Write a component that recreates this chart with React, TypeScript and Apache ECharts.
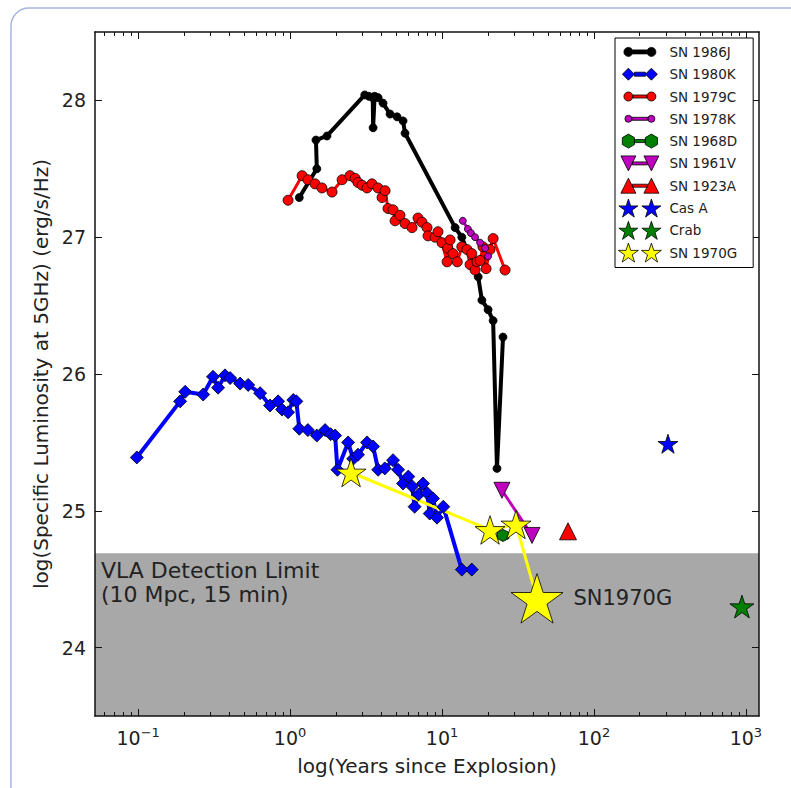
import React, { useEffect, useRef } from 'react';
import * as echarts from 'echarts';

// ---------- data (years since explosion, log specific luminosity) ----------
const sn1986J_t = [1.15, 1.5, 1.48, 1.75, 3.1, 3.3, 3.5, 3.52, 3.6, 3.8, 4.09, 4.55, 5.06, 5.54, 5.71, 12.2, 13.5, 17.3, 18.3, 20.1, 21.7, 23.0, 25.2];
const sn1986J_L = [27.29, 27.5, 27.71, 27.74, 28.04, 28.03, 28.02, 27.8, 28.03, 28.02, 27.98, 27.9, 27.88, 27.85, 27.76, 27.07, 27.0, 26.71, 26.54, 26.47, 26.39, 25.31, 26.27];

const sn1980K_t = [0.098, 0.189, 0.204, 0.268, 0.311, 0.336, 0.373, 0.403, 0.469, 0.53, 0.635, 0.738, 0.834, 0.885, 0.97, 1.05, 1.1, 1.15, 1.31, 1.5, 1.7, 1.85, 1.98, 2.05, 2.41, 2.6, 2.8, 3.21, 3.52, 3.8, 4.2, 4.76, 5.14, 5.54, 6.0, 6.35, 6.6, 7.0, 7.5, 7.97, 8.3, 8.73, 9.27, 10.2, 13.5, 15.7];
const sn1980K_L = [25.39, 25.8, 25.87, 25.85, 25.98, 25.9, 25.99, 25.97, 25.93, 25.92, 25.86, 25.77, 25.8, 25.74, 25.72, 25.81, 25.8, 25.6, 25.59, 25.55, 25.59, 25.56, 25.55, 25.3, 25.5, 25.38, 25.41, 25.5, 25.47, 25.3, 25.31, 25.37, 25.3, 25.2, 25.25, 25.18, 25.03, 25.12, 25.2, 25.13, 24.98, 25.09, 24.95, 25.03, 24.57, 24.57];

const sn1979C_t = [0.97, 1.2, 1.31, 1.46, 1.62, 1.89, 2.2, 2.48, 2.68, 2.8, 2.98, 3.21, 3.46, 3.79, 4.03, 4.22, 4.41, 4.76, 4.91, 5.29, 5.71, 6.35, 6.95, 7.38, 7.97, 8.09, 9.0, 9.41, 10.0, 10.8, 10.9, 11.3, 11.8, 12.6, 13.5, 14.6, 15.3, 15.7, 16.5, 17.0, 17.8, 18.6, 19.5, 20.7, 21.7, 26.0];
const sn1979C_L = [27.27, 27.45, 27.42, 27.39, 27.36, 27.33, 27.42, 27.45, 27.43, 27.4, 27.38, 27.36, 27.39, 27.36, 27.29, 27.34, 27.21, 27.2, 27.12, 27.16, 27.1, 27.07, 27.14, 27.11, 27.07, 27.01, 27.0, 27.04, 26.96, 26.82, 26.92, 26.98, 26.88, 26.82, 26.93, 26.91, 26.8, 26.88, 26.76, 26.82, 26.83, 26.93, 26.77, 26.91, 26.99, 26.76];

const sn1978K_t = [13.7, 14.8, 15.5, 16.5, 17.8, 19.2, 20.1];
const sn1978K_L = [27.12, 27.06, 27.03, 27.0, 26.96, 26.92, 26.86];

const sn1968D_t = [25.2];
const sn1968D_L = [24.82];

const sn1961V_t = [24.8, 39.1];
const sn1961V_L = [25.15, 24.82];

const sn1923A_t = [67.5];
const sn1923A_L = [24.85];

const casA_t = [307];
const casA_L = [25.49];

const crab_t = [942];
const crab_L = [24.3];

const sn1970G_t = [2.52, 20.7, 30.7, 42.2];
const sn1970G_L = [25.28, 24.86, 24.9, 24.36];

const vlaLimit = 24.69;
const xRange = [0.052, 1220];
const yRange = [23.5, 28.5];
const xMajorTicks = [0.1, 1, 10, 100, 1000];
const xMinorTicks = [0.06, 0.07, 0.08, 0.09, 0.2, 0.3, 0.4, 0.5, 0.6, 0.7, 0.8, 0.9, 2, 3, 4, 5, 6, 7, 8, 9, 20, 30, 40, 50, 60, 70, 80, 90, 200, 300, 400, 500, 600, 700, 800, 900];
const yTicks = [24, 25, 26, 27, 28];

// ---------- helpers ----------
const zip = (t: number[], L: number[]) => t.map((v, i) => [v, L[i]]);
const FONT = 'DejaVu Sans';
const TXT = '#222';

const STAR_UNIT: number[][] = [];
for (let k = 0; k < 10; k++) {
  const a = (-90 + k * 36) * Math.PI / 180;
  const r = k % 2 === 0 ? 1 : 0.382;
  STAR_UNIT.push([r * Math.cos(a), r * Math.sin(a)]);
}
const HEX_UNIT = [[0, -1], [0.866, -0.5], [0.866, 0.5], [0, 1], [-0.866, 0.5], [-0.866, -0.5]];
const TRI_UP = [[0, -1], [1, 1], [-1, 1]];
const TRI_DOWN = [[-1, -1], [1, -1], [0, 1]];
const DIAMOND = [[0, -1], [1, 0], [0, 1], [-1, 0]];

const f = (n: number) => n.toFixed(2);
const polyPath = (cx: number, cy: number, R: number, pts: number[][]) =>
  'M' + pts.map(([x, y]) => `${f(cx + R * x)},${f(cy + R * y)}`).join('L') + 'Z';
const circlePath = (cx: number, cy: number, r: number) =>
  `M${f(cx - r)},${f(cy)}A${r},${r},0,1,1,${f(cx + r)},${f(cy)}A${r},${r},0,1,1,${f(cx - r)},${f(cy)}Z`;

const unitSymbol = (pts: number[][]) => 'path://' + polyPath(50, 50, 50, pts);
const STAR = unitSymbol(STAR_UNIT);
const HEX = unitSymbol(HEX_UNIT);

const CX1 = 8, CX2 = 31, CY = 10.5;
const FRAME = 'M-3,0M44,21';
const pairIcon = (mk: (cx: number) => string, half: number, bar: number) =>
  'path://' + FRAME + mk(CX1) + mk(CX2) +
  (bar > 0
    ? `M${f(CX1 + half)},${f(CY - bar / 2)}L${f(CX2 - half)},${f(CY - bar / 2)}L${f(CX2 - half)},${f(CY + bar / 2)}L${f(CX1 + half)},${f(CY + bar / 2)}Z`
    : '');

// ---------- series ----------
const base = (name: string, color: string) => ({
  name,
  silent: true,
  emphasis: { disabled: true },
  itemStyle: { color, borderColor: '#000', borderWidth: 0.8, opacity: 1 },
});

const lineS = (name: string, t: number[], L: number[], color: string, symbol: string, size: any, lw: number, extra: any = {}) => ({
  ...base(name, color),
  type: 'line',
  data: zip(t, L),
  symbol,
  symbolSize: size,
  showSymbol: true,
  showAllSymbol: true,
  lineStyle: { color, width: lw, opacity: 1 },
  ...extra,
});

const scatterS = (name: string, t: number[], L: number[], color: string, symbol: string, size: number, extra: any = {}) => ({
  ...base(name, color),
  type: 'scatter',
  data: zip(t, L),
  symbol,
  symbolSize: size,
  ...extra,
});

const legendItems = [
  { name: 'SN 1986J', icon: pairIcon((cx) => circlePath(cx, CY, 4.5), 4.5, 4), itemStyle: { color: '#000000' } },
  { name: 'SN 1980K', icon: pairIcon((cx) => polyPath(cx, CY, 6, DIAMOND), 6, 4), itemStyle: { color: '#0000ff' } },
  { name: 'SN 1979C', icon: pairIcon((cx) => circlePath(cx, CY, 4.5), 4.5, 3), itemStyle: { color: '#ff0000' } },
  { name: 'SN 1978K', icon: pairIcon((cx) => circlePath(cx, CY, 3.5), 3.5, 3), itemStyle: { color: '#bf00bf' } },
  { name: 'SN 1968D', icon: pairIcon((cx) => polyPath(cx, CY, 7, HEX_UNIT), 6, 3), itemStyle: { color: '#008000' } },
  { name: 'SN 1961V', icon: pairIcon((cx) => polyPath(cx, CY, 7.5, TRI_DOWN), 4, 3), itemStyle: { color: '#bf00bf' } },
  { name: 'SN 1923A', icon: pairIcon((cx) => polyPath(cx, CY, 7.5, TRI_UP), 4, 3), itemStyle: { color: '#ff0000' } },
  { name: 'Cas A', icon: pairIcon((cx) => polyPath(cx, CY + 1, 10, STAR_UNIT), 0, 0), itemStyle: { color: '#0000ff' } },
  { name: 'Crab', icon: pairIcon((cx) => polyPath(cx, CY + 1, 10, STAR_UNIT), 0, 0), itemStyle: { color: '#008000' } },
  { name: 'SN 1970G', icon: pairIcon((cx) => polyPath(cx, CY + 1, 10.5, STAR_UNIT), 0, 0), itemStyle: { color: '#ffff00' } },
].map((d) => ({ ...d, itemStyle: { ...d.itemStyle, borderColor: '#000', borderWidth: 0.8, opacity: 1 } }));

const axisCommon = {
  z: 3,
  splitLine: { show: false },
  axisLine: { show: true, onZero: false, lineStyle: { color: '#111', width: 1.5 } },
};

const xAxisBase = {
  ...axisCommon,
  type: 'log',
  logBase: 10,
  min: xRange[0],
  max: xRange[1],
  gridIndex: 0,
};

const expLabel = (v: number) => {
  const e = Math.round(Math.log10(v));
  return `{b|10}{s|${e < 0 ? '\u2212' + -e : e}}`;
};

const option: any = {
  animation: false,
  backgroundColor: '#ffffff',
  textStyle: { fontFamily: FONT },
  grid: { left: 95, top: 32, width: 664, height: 684, containLabel: false },
  legend: {
    orient: 'vertical',
    left: 615,
    top: 38,
    padding: [3, 16, 4, 2],
    itemWidth: 47,
    itemHeight: 21,
    itemGap: 0.5,
    selectedMode: false,
    backgroundColor: '#ffffff',
    borderColor: '#000',
    borderWidth: 1,
    borderRadius: 0,
    textStyle: { fontSize: 13.5, color: TXT, fontFamily: FONT },
    data: legendItems,
  },
  xAxis: [
    {
      ...xAxisBase,
      position: 'bottom',
      name: 'log(Years since Explosion)',
      nameLocation: 'middle',
      nameGap: 40,
      nameTextStyle: { fontSize: 20, color: TXT, fontFamily: FONT },
      axisTick: { show: true, inside: true, length: 7, customValues: xMajorTicks, lineStyle: { color: '#111', width: 1 } },
      axisLabel: {
        show: true,
        margin: 10,
        customValues: xMajorTicks,
        formatter: expLabel,
        rich: {
          b: { fontSize: 19, lineHeight: 24, color: TXT, fontFamily: FONT },
          s: { fontSize: 13, lineHeight: 10, verticalAlign: 'top', color: TXT, fontFamily: FONT },
        },
      },
    },
    {
      ...xAxisBase,
      position: 'bottom',
      axisLine: { show: false },
      axisTick: { show: true, inside: true, length: 4, customValues: xMinorTicks, lineStyle: { color: '#111', width: 1 } },
      axisLabel: { show: false },
    },
    {
      ...xAxisBase,
      position: 'top',
      axisTick: { show: true, inside: true, length: 7, customValues: xMajorTicks, lineStyle: { color: '#111', width: 1 } },
      axisLabel: { show: false },
    },
    {
      ...xAxisBase,
      position: 'top',
      axisLine: { show: false },
      axisTick: { show: true, inside: true, length: 4, customValues: xMinorTicks, lineStyle: { color: '#111', width: 1 } },
      axisLabel: { show: false },
    },
  ],
  yAxis: [
    {
      ...axisCommon,
      type: 'value',
      min: yRange[0],
      max: yRange[1],
      position: 'left',
      name: 'log(Specific Luminosity at 5GHz) (erg/s/Hz)',
      nameLocation: 'middle',
      nameGap: 38,
      nameTextStyle: { fontSize: 20, color: TXT, fontFamily: FONT },
      axisTick: { show: true, inside: true, length: 7, customValues: yTicks, lineStyle: { color: '#111', width: 1 } },
      axisLabel: { show: true, margin: 9, customValues: yTicks, fontSize: 19, color: TXT, fontFamily: FONT },
    },
    {
      ...axisCommon,
      type: 'value',
      min: yRange[0],
      max: yRange[1],
      position: 'right',
      axisTick: { show: true, inside: true, length: 7, customValues: yTicks, lineStyle: { color: '#111', width: 1 } },
      axisLabel: { show: false },
    },
  ],
  graphic: [
    {
      type: 'rect',
      silent: true,
      shape: { x: 11, y: 8, width: 900, height: 900, r: 18 },
      style: { fill: 'none', stroke: '#a9b5df', lineWidth: 1.5 },
      z: 0,
    },
    {
      type: 'text',
      silent: true,
      left: 101,
      top: 558,
      z: 5,
      style: { text: 'VLA Detection Limit\n(10 Mpc, 15 min)', fontSize: 22, lineHeight: 24, fill: TXT, fontFamily: FONT },
    },
  ],
  series: [
    {
      name: 'vla',
      type: 'line',
      data: [],
      silent: true,
      z: 1,
      markArea: {
        silent: true,
        itemStyle: { color: '#a8a8a8', opacity: 1 },
        data: [[{ yAxis: yRange[0] }, { yAxis: vlaLimit }]],
      },
    },
    lineS('SN 1986J', sn1986J_t, sn1986J_L, '#000000', 'circle', 8, 4),
    lineS('SN 1980K', sn1980K_t, sn1980K_L, '#0000ff', 'diamond', 13, 4),
    lineS('SN 1979C', sn1979C_t, sn1979C_L, '#ff0000', 'circle', 10, 3),
    lineS('SN 1978K', sn1978K_t, sn1978K_L, '#bf00bf', 'circle', 7, 3),
    scatterS('SN 1968D', sn1968D_t, sn1968D_L, '#008000', HEX, 12),
    lineS('SN 1961V', sn1961V_t, sn1961V_L, '#bf00bf', 'triangle', 16, 3, { symbolRotate: 180 }),
    scatterS('SN 1923A', sn1923A_t, sn1923A_L, '#ff0000', 'triangle', 17),
    scatterS('Cas A', casA_t, casA_L, '#0000ff', STAR, 20, { symbolKeepAspect: true }),
    scatterS('Crab', crab_t, crab_L, '#008000', STAR, 24, { symbolKeepAspect: true }),
    lineS('SN 1970G', sn1970G_t, sn1970G_L, '#ffff00', STAR, (_v: any, p: any) => (p.dataIndex === sn1970G_t.length - 1 ? 52 : 30), 3, {
      symbolKeepAspect: true,
      data: zip(sn1970G_t, sn1970G_L).map((v, i) =>
        i === sn1970G_t.length - 1
          ? {
              value: v,
              label: { show: true, position: 'right', distance: 10, formatter: 'SN1970G', fontSize: 21, color: TXT, fontFamily: FONT },
            }
          : v
      ),
    }),
  ],
};

export default function App() {
  const ref = useRef<HTMLDivElement>(null);
  useEffect(() => {
    const chart = echarts.init(ref.current as HTMLDivElement, null, { renderer: 'svg' });
    chart.setOption(option);
    return () => chart.dispose();
  }, []);
  return (
    <div
      ref={ref}
      style={{ position: 'fixed', left: 0, top: 0, width: 791, height: 788, background: '#ffffff' }}
    />
  );
}
